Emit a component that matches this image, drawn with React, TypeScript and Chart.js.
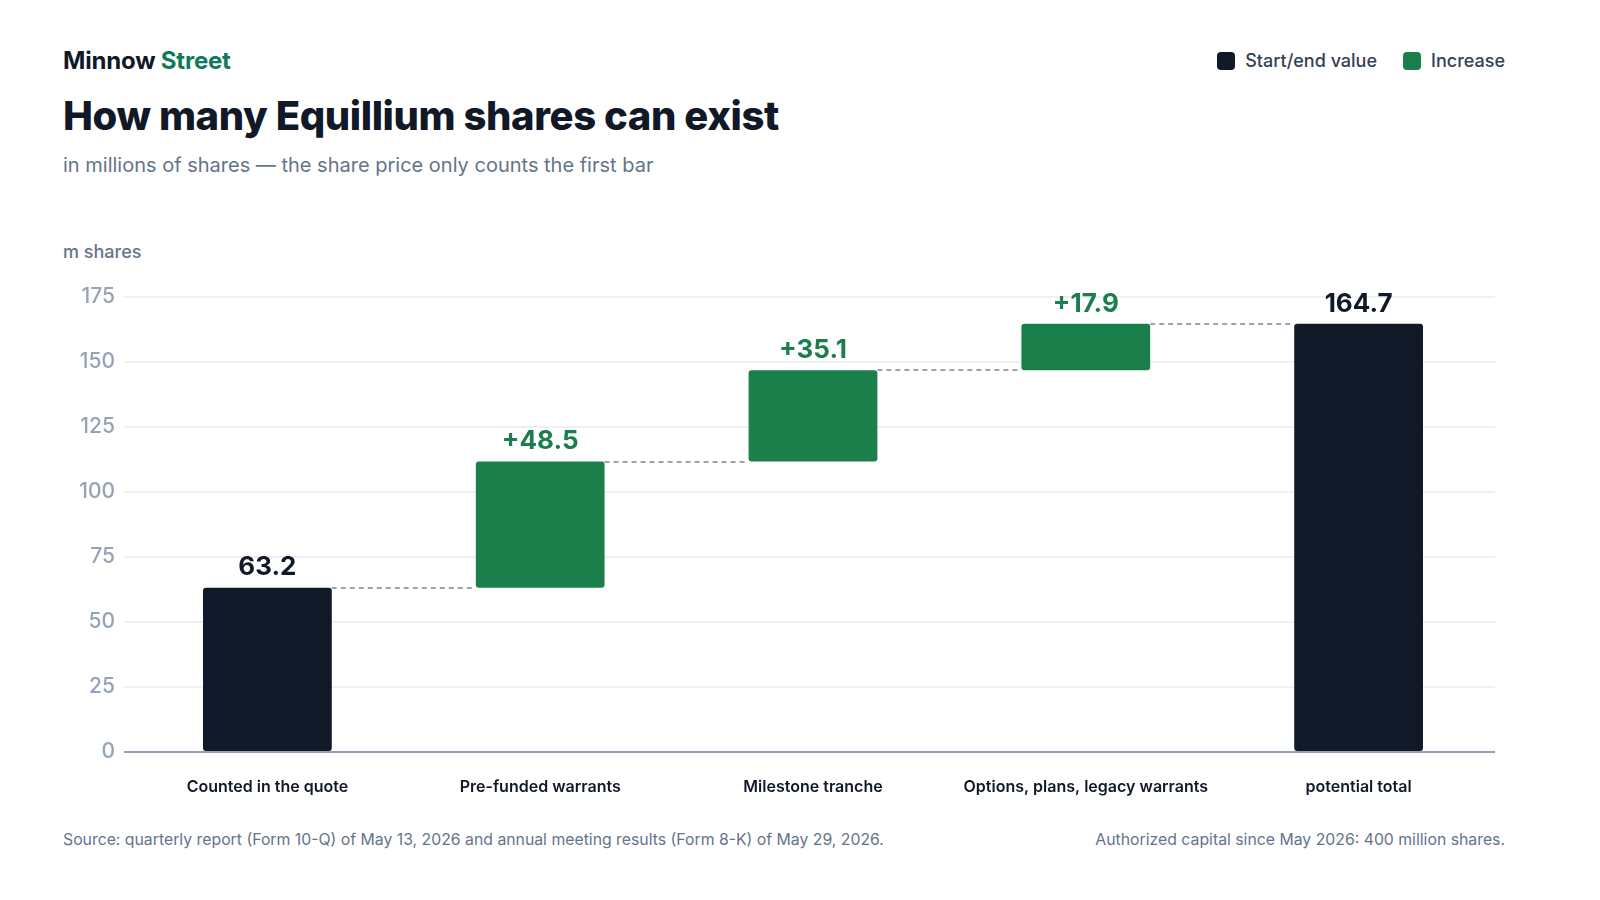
import { useEffect, useRef } from "react";
import { Chart, registerables } from "chart.js";

Chart.register(...registerables);

const categories = [
  "Counted in the quote",
  "Pre-funded warrants",
  "Milestone tranche",
  "Options, plans, legacy warrants",
  "potential total",
];
const kinds = ["total", "increase", "increase", "increase", "total"];
const values = [63.2, 48.5, 35.1, 17.9, 164.7];
const yTicks = [0, 25, 50, 75, 100, 125, 150, 175];

const DARK = "#111827";
const GREEN = "#1b7f4c";
const FONT = "Inter, 'Noto Sans', sans-serif";

// floating [start, end] ranges for the waterfall
function buildRanges() {
  const out: [number, number][] = [];
  let run = 0;
  values.forEach((v, i) => {
    if (kinds[i] === "total") {
      out.push([0, v]);
      run = v;
    } else {
      out.push([run, run + v]);
      run += v;
    }
  });
  return out;
}

const waterfallPlugin = {
  id: "waterfall",
  beforeDatasetsDraw(chart: any) {
    const { ctx } = chart;
    const meta = chart.getDatasetMeta(0);
    const y = chart.scales.y;
    const ranges = chart.data.datasets[0].data as [number, number][];
    ctx.save();
    ctx.strokeStyle = "#9ca3af";
    ctx.lineWidth = 2;
    ctx.setLineDash([5, 4]);
    for (let i = 0; i < ranges.length - 1; i++) {
      const a = meta.data[i];
      const b = meta.data[i + 1];
      const py = Math.round(y.getPixelForValue(ranges[i][1]));
      ctx.beginPath();
      ctx.moveTo(a.x + a.width / 2, py);
      ctx.lineTo(b.x - b.width / 2, py);
      ctx.stroke();
    }
    ctx.restore();
  },
  afterDatasetsDraw(chart: any) {
    const { ctx } = chart;
    const meta = chart.getDatasetMeta(0);
    const y = chart.scales.y;
    const ranges = chart.data.datasets[0].data as [number, number][];
    ctx.save();
    ctx.font = `700 26px ${FONT}`;
    ctx.textAlign = "center";
    ctx.textBaseline = "bottom";
    meta.data.forEach((bar: any, i: number) => {
      const total = kinds[i] === "total";
      ctx.fillStyle = total ? DARK : GREEN;
      const txt = total ? values[i].toFixed(1) : `+${values[i].toFixed(1)}`;
      ctx.fillText(txt, bar.x, y.getPixelForValue(ranges[i][1]) - 7);
    });
    ctx.restore();
  },
};

function WaterfallChart() {
  const canvasRef = useRef<HTMLCanvasElement>(null);
  const chartRef = useRef<Chart | null>(null);

  useEffect(() => {
    if (!canvasRef.current) return;
    if (chartRef.current) chartRef.current.destroy();

    chartRef.current = new Chart(canvasRef.current, {
      type: "bar",
      data: {
        labels: categories,
        datasets: [
          {
            data: buildRanges() as any,
            backgroundColor: kinds.map((k) => (k === "total" ? DARK : GREEN)),
            borderRadius: 3,
            borderSkipped: false,
            barPercentage: 0.472,
            categoryPercentage: 1,
          },
        ],
      },
      options: {
        responsive: false,
        animation: false,
        layout: { padding: { top: 27, right: 10, left: 0, bottom: 0 } },
        plugins: {
          legend: { display: false },
          tooltip: { enabled: false },
        },
        scales: {
          x: {
            grid: { display: false, drawTicks: false },
            border: { display: false },
            ticks: {
              padding: 26,
              color: DARK,
              font: { family: FONT, size: 16, weight: 600 as any },
            },
            afterFit: (scale: any) => {
              scale.height = 48;
            },
          },
          y: {
            min: 0,
            max: 175,
            afterBuildTicks: (scale: any) => {
              scale.ticks = yTicks.map((v) => ({ value: v }));
            },
            grid: {
              color: (c: any) => (c.tick && c.tick.value === 0 ? "#94a3b8" : "#edf0f4"),
              lineWidth: 2,
              drawTicks: true,
              tickLength: 7,
            },
            border: { display: false },
            ticks: {
              padding: 9,
              color: "#94a3b8",
              font: { family: FONT, size: 21, weight: 500 as any },
            },
            afterFit: (scale: any) => {
              scale.width = 68;
            },
          },
        },
      },
      plugins: [waterfallPlugin],
    });

    return () => {
      if (chartRef.current) chartRef.current.destroy();
    };
  }, []);

  return <canvas ref={canvasRef} width={1442} height={530} style={{ display: "block" }} />;
}

function LegendItem({ color, label }: { color: string; label: string }) {
  return (
    <div style={{ display: "flex", alignItems: "center", gap: 10 }}>
      <span style={{ width: 18, height: 18, borderRadius: 4, background: color, display: "inline-block" }} />
      <span style={{ fontSize: 18, fontWeight: 500, color: "#334155" }}>{label}</span>
    </div>
  );
}

export default function App() {
  return (
    <div
      style={{
        position: "absolute",
        left: 0,
        top: 0,
        width: 1600,
        height: 900,
        background: "#fff",
        fontFamily: FONT,
      }}
    >
      <div style={{ position: "absolute", left: 63, top: 45, fontSize: 24, fontWeight: 700, lineHeight: "32px", letterSpacing: -0.2, color: DARK }}>
        Minnow <span style={{ color: "#0f7b5a" }}>Street</span>
      </div>
      <div style={{ position: "absolute", right: 95, top: 50, display: "flex", gap: 26 }}>
        <LegendItem color={DARK} label="Start/end value" />
        <LegendItem color={GREEN} label="Increase" />
      </div>
      <div style={{ position: "absolute", left: 63, top: 90, fontSize: 40, fontWeight: 800, lineHeight: "52px", letterSpacing: -0.4, color: DARK }}>
        How many Equillium shares can exist
      </div>
      <div style={{ position: "absolute", left: 63, top: 151, fontSize: 20, lineHeight: "28px", color: "#64748b" }}>
        in millions of shares — the share price only counts the first bar
      </div>
      <div style={{ position: "absolute", left: 63, top: 240, fontSize: 18, fontWeight: 500, lineHeight: "24px", color: "#64748b" }}>
        m shares
      </div>
      <div style={{ position: "absolute", left: 63, top: 270 }}>
        <WaterfallChart />
      </div>
      <div style={{ position: "absolute", left: 63, top: 829, fontSize: 15.8, lineHeight: "22px", color: "#64748b" }}>
        Source: quarterly report (Form 10-Q) of May 13, 2026 and annual meeting results (Form 8-K) of May 29, 2026.
      </div>
      <div style={{ position: "absolute", right: 95, top: 829, fontSize: 15.8, lineHeight: "22px", color: "#64748b" }}>
        Authorized capital since May 2026: 400 million shares.
      </div>
    </div>
  );
}
